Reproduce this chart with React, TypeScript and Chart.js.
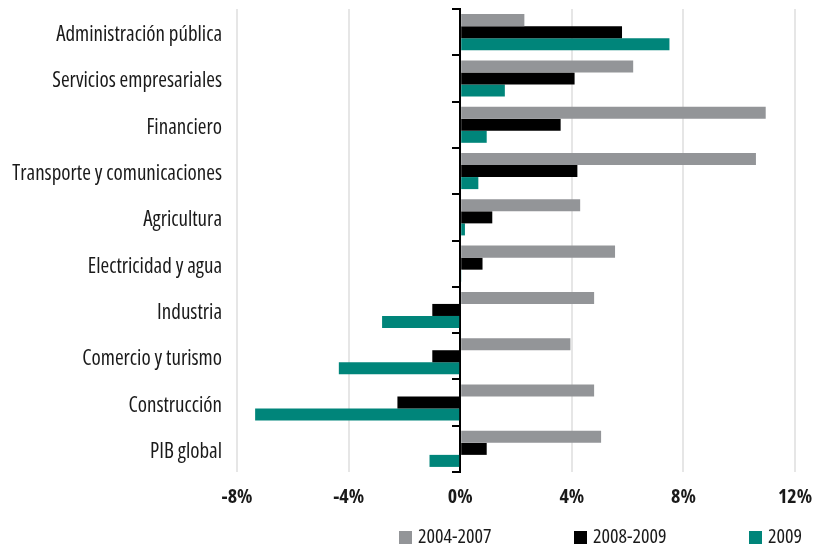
import React, { useEffect, useRef } from "react";
import { Chart, registerables } from "chart.js";

Chart.register(...registerables);

const categories = [
  "Administración pública",
  "Servicios empresariales",
  "Financiero",
  "Transporte y comunicaciones",
  "Agricultura",
  "Electricidad y agua",
  "Industria",
  "Comercio y turismo",
  "Construcción",
  "PIB global",
];

const seriesNames = ["2004-2007", "2008-2009", "2009"];

const values2004_2007 = [2.3, 6.2, 10.95, 10.6, 4.3, 5.55, 4.8, 3.95, 4.8, 5.05];
const values2008_2009 = [5.8, 4.1, 3.6, 4.2, 1.15, 0.8, -1.0, -1.0, -2.25, 0.95];
const values2009 = [7.5, 1.6, 0.95, 0.65, 0.17, 0.03, -2.8, -4.35, -7.35, -1.1];

const xTicks = [-8, -4, 0, 4, 8, 12];

const colors = ["#939598", "#000000", "#00857a"];

const FONT = "'Open Sans', 'PT Sans Narrow', 'Roboto Condensed', sans-serif";
const TEXT = "#1a1a1a";

const legendPlugin = {
  id: "columnLegend",
  afterDraw(chart: any) {
    const ctx = chart.ctx;
    ctx.save();
    ctx.font = `condensed 20px ${FONT}`;
    ctx.textBaseline = "middle";
    ctx.textAlign = "left";
    const left = 399;
    const step = 175;
    const yc = 537.5;
    chart.data.datasets.forEach((ds: any, i: number) => {
      const x = left + i * step;
      ctx.fillStyle = ds.backgroundColor;
      ctx.fillRect(x, yc - 6.5, 13, 13);
      ctx.fillStyle = TEXT;
      ctx.fillText(ds.label, x + 19, yc);
    });
    ctx.restore();
  },
};

export default function App() {
  const ref = useRef<HTMLCanvasElement | null>(null);

  useEffect(() => {
    if (!ref.current) return;
    const data = [values2004_2007, values2008_2009, values2009];
    const chart = new Chart(ref.current, {
      type: "bar",
      data: {
        labels: categories,
        datasets: seriesNames.map((name, i) => ({
          label: name,
          data: data[i],
          backgroundColor: colors[i],
          borderWidth: 0,
          categoryPercentage: 0.78,
          barPercentage: 1,
          yAxisID: "y",
        })),
      },
      options: {
        indexAxis: "y",
        animation: false,
        responsive: true,
        maintainAspectRatio: false,
        layout: { padding: { top: 9, right: 26, left: 0, bottom: 0 } },
        plugins: {
          legend: { display: false },
          tooltip: { enabled: false },
        },
        scales: {
          x: {
            type: "linear",
            min: -8,
            max: 12,
            afterBuildTicks: (scale: any) => {
              scale.ticks = xTicks.map((v) => ({ value: v }));
            },
            afterFit: (scale: any) => {
              scale.height = 76;
              scale.paddingLeft = 0;
              scale.paddingRight = 0;
            },
            grid: {
              color: "#e6e6e6",
              lineWidth: 2,
              drawTicks: false,
            },
            border: { display: false },
            ticks: {
              padding: 13,
              color: TEXT,
              font: { family: FONT, size: 20, weight: "bold condensed" },
              callback: (v: any) => `${v}%`,
            },
          },
          y: {
            type: "category",
            position: "left",
            afterFit: (scale: any) => {
              scale.width = 237;
              scale.paddingTop = 0;
              scale.paddingBottom = 0;
            },
            grid: { display: false, drawTicks: false },
            border: { display: false },
            ticks: {
              padding: 15,
              labelOffset: 3,
              color: TEXT,
              font: { family: FONT, size: 21, weight: "condensed" },
            },
          },
          y2: {
            type: "category",
            labels: categories,
            position: { x: 0 } as any,
            offset: true,
            z: 1,
            afterFit: (scale: any) => {
              scale.width = 0;
              scale.paddingTop = 0;
              scale.paddingBottom = 0;
            },
            grid: {
              offset: true,
              drawOnChartArea: false,
              drawTicks: true,
              tickLength: 7,
              color: "#000000",
              lineWidth: 2,
            },
            border: { display: true, color: "#000000", width: 2 },
            ticks: { display: false },
          },
        },
      } as any,
      plugins: [legendPlugin],
    });
    return () => chart.destroy();
  }, []);

  return (
    <div style={{ position: "fixed", left: 0, top: 0, width: 821, height: 548, background: "#fff" }}>
      <canvas ref={ref} />
    </div>
  );
}
